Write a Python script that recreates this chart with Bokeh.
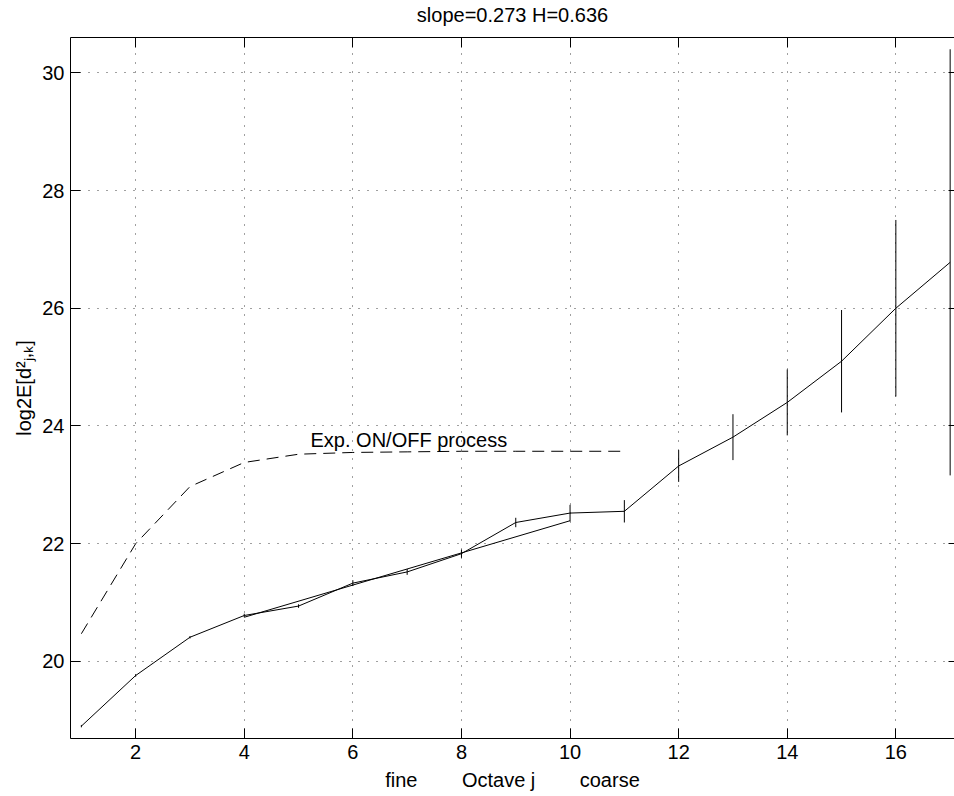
from bokeh.plotting import figure
from bokeh.models import Range1d, FixedTicker, LinearAxis, Label, ColumnDataSource
from bokeh.embed import file_html
from bokeh.resources import INLINE

# ---------------- DATA ----------------
octaves = [1, 2, 3, 4, 5, 6, 7, 8, 9, 10, 11, 12, 13, 14, 15, 16, 17]
log2_energy = [18.90, 19.76, 20.41, 20.78, 20.94, 21.33, 21.52, 21.83, 22.36,
               22.52, 22.55, 23.32, 23.81, 24.40, 25.10, 26.00, 26.78]
ci_halfwidth = [0.02, 0.02, 0.02, 0.03, 0.03, 0.05, 0.05, 0.07, 0.08,
                0.14, 0.19, 0.27, 0.39, 0.56, 0.87, 1.50, 3.62]
fit_octaves = [4, 10]
fit_values = [20.75, 22.39]
onoff_octaves = [1, 2, 3, 4, 5, 6, 7, 8, 9, 10, 11]
onoff_values = [20.47, 22.00, 22.97, 23.38, 23.52, 23.55, 23.56, 23.57, 23.57, 23.57, 23.57]
x_ticks = [2, 4, 6, 8, 10, 12, 14, 16]
y_ticks = [20, 22, 24, 26, 28, 30]
title_text = "slope=0.273 H=0.636"
x_label = "fine\u00a0\u00a0\u00a0\u00a0\u00a0\u00a0\u00a0\u00a0Octave j\u00a0\u00a0\u00a0\u00a0\u00a0\u00a0\u00a0\u00a0coarse"
y_label = "log2E[d\u00b2\u2c7c,\u2096]"
annotation_text = "Exp. ON/OFF process"

FONT = "Liberation Sans"
FS = "20px"

p = figure(width=954, height=796, output_backend="svg", toolbar_location=None,
           x_range=Range1d(0.80, 17.08), y_range=Range1d(18.69, 30.60),
           min_border_left=70, min_border_right=0, min_border_top=37, min_border_bottom=58,
           x_axis_location=None, y_axis_location=None, title=None)
p.background_fill_color = "white"
p.border_fill_color = "white"
p.outline_line_color = None


def style_axis(ax, labels=True):
    ax.axis_line_color = "black"
    ax.axis_line_width = 1
    ax.major_tick_in = 10
    ax.major_tick_out = 0
    ax.minor_tick_in = 0
    ax.minor_tick_out = 0
    ax.major_tick_line_color = "black"
    ax.major_label_text_font = FONT
    ax.axis_label_text_font = FONT
    ax.axis_label_text_font_size = FS
    ax.axis_label_text_font_style = "normal"
    ax.axis_label_text_color = "black"
    if labels:
        ax.major_label_text_font_size = FS
        ax.major_label_text_color = "black"
    else:
        ax.major_label_text_font_size = "0px"
        ax.major_label_text_color = None
        ax.major_label_standoff = 0


# bottom axis
xb = LinearAxis(ticker=FixedTicker(ticks=x_ticks))
style_axis(xb)
xb.major_label_standoff = 6
xb.axis_label = x_label
xb.axis_label_standoff = 7
p.add_layout(xb, "below")

# top border with inward ticks; carries the title text
xt = LinearAxis(ticker=FixedTicker(ticks=x_ticks))
style_axis(xt, labels=False)
xt.axis_label = title_text
xt.axis_label_standoff = 12
p.add_layout(xt, "above")

# left axis
yl = LinearAxis(ticker=FixedTicker(ticks=y_ticks))
style_axis(yl)
yl.major_label_standoff = 6
yl.axis_label = y_label
yl.axis_label_standoff = 4
p.add_layout(yl, "left")

# right side: inward ticks only
yr = LinearAxis(ticker=FixedTicker(ticks=y_ticks))
style_axis(yr, labels=False)
yr.axis_line_color = None
yr.major_tick_in = 6
p.add_layout(yr, "right")

p.xgrid.ticker = FixedTicker(ticks=x_ticks)
p.ygrid.ticker = FixedTicker(ticks=y_ticks)
for g in (p.xgrid, p.ygrid):
    g.grid_line_color = "black"
    g.grid_line_alpha = 0.75
    g.grid_line_dash = "1 8"
    g.grid_line_width = 1

# main estimate with error bars
src = ColumnDataSource(dict(
    x=octaves, y=log2_energy,
    lo=[v - e for v, e in zip(log2_energy, ci_halfwidth)],
    hi=[v + e for v, e in zip(log2_energy, ci_halfwidth)]))
p.segment(x0="x", y0="lo", x1="x", y1="hi", source=src, line_color="black", line_width=1)
p.line(x="x", y="y", source=src, line_color="black", line_width=1)

# regression fit
p.line(fit_octaves, fit_values, line_color="black", line_width=1)

# exponential ON/OFF process
p.line(onoff_octaves, onoff_values, line_color="black", line_width=1, line_dash="12 7")

p.add_layout(Label(x=5.22, y=23.76, text=annotation_text, text_font=FONT,
                   text_font_size=FS, text_color="black", text_baseline="alphabetic"))

open("out.html", "w").write(file_html(p, INLINE))
